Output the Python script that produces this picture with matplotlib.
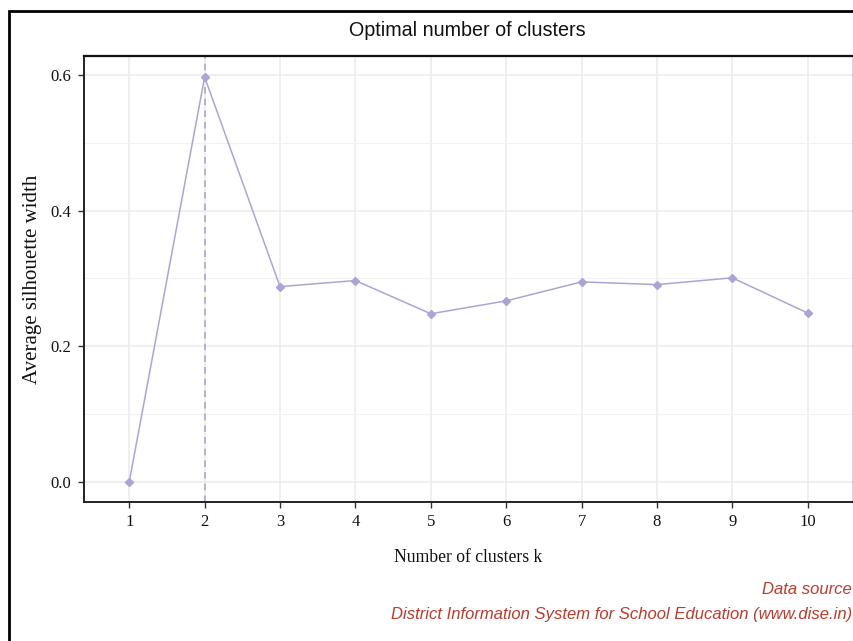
import matplotlib
matplotlib.use("Agg")
import matplotlib.pyplot as plt
from matplotlib.patches import Rectangle

# silhouette widths
clusters = [1, 2, 3, 4, 5, 6, 7, 8, 9, 10]
silhouette = [0.0, 0.597, 0.288, 0.297, 0.248, 0.267, 0.295, 0.291, 0.301, 0.249]
optimal_k = 2
y_ticks = [0.0, 0.2, 0.4, 0.6]
y_minor = [0.1, 0.3, 0.5]

line_col = "#ADA4D6"
W, H = 854, 641

fig = plt.figure(figsize=(W / 100, H / 100), dpi=100)
ax = fig.add_axes([84 / W, 1 - 502 / H, (853 - 84) / W, (502 - 56) / H])

# grid like ggplot theme_bw
for k in clusters:
    ax.axvline(k, color="#EBEBEB", lw=1.1, zorder=0)
for v in y_ticks:
    ax.axhline(v, color="#EBEBEB", lw=1.1, zorder=0)
for v in y_minor:
    ax.axhline(v, color="#F2F2F2", lw=0.8, zorder=0)

ax.axvline(optimal_k, color=line_col, lw=1.2, ls=(0, (4, 3)), zorder=1)
ax.plot(clusters, silhouette, color=line_col, lw=1.1, marker="D", ms=4.5,
        markerfacecolor=line_col, markeredgecolor=line_col, zorder=2)

ax.set_xlim(0.4, 10.6)
ax.set_ylim(-0.0295, 0.628)
ax.set_xticks(clusters)
ax.set_yticks(y_ticks)
ax.set_yticklabels([f"{v:.1f}" for v in y_ticks])

for sp in ["top", "right"]:
    ax.spines[sp].set_color("#333333")
    ax.spines[sp].set_linewidth(1.0)
for sp in ["left", "bottom"]:
    ax.spines[sp].set_color("#222222")
    ax.spines[sp].set_linewidth(1.4)
ax.spines["top"].set_linewidth(1.6)
ax.spines["top"].set_color("#111111")

ax.tick_params(axis="both", length=4, width=1, color="#333333",
               labelsize=12, labelcolor="#111111", pad=5)
for lab in ax.get_xticklabels() + ax.get_yticklabels():
    lab.set_family("Liberation Serif")

ax.set_xlabel("Number of clusters k", family="Liberation Serif", fontsize=12.7,
              labelpad=13, color="#111111")
ax.set_ylabel("Average silhouette width", family="Liberation Serif", fontsize=15,
              labelpad=6, color="#111111")

fig.text(467 / W, 1 - 30 / H, "Optimal number of clusters", family="Liberation Sans",
         fontsize=14.2, ha="center", va="center", color="#111111")

# caption, right aligned near the right edge
fig.text(852 / W, 1 - 590 / H, "Data source", family="Liberation Sans", style="italic",
         fontsize=12, ha="right", va="center", color="#C0392B")
fig.text(852 / W, 1 - 614 / H, "District Information System for School Education (www.dise.in)",
         family="Liberation Sans", style="italic", fontsize=12, ha="right", va="center",
         color="#C0392B")

# screenshot frame
fig.add_artist(Rectangle((9.5 / W, -0.1), 2, 1 - 11 / H + 0.1, transform=fig.transFigure,
                         fill=False, edgecolor="black", lw=2))

fig.savefig("out.png", dpi=100)
